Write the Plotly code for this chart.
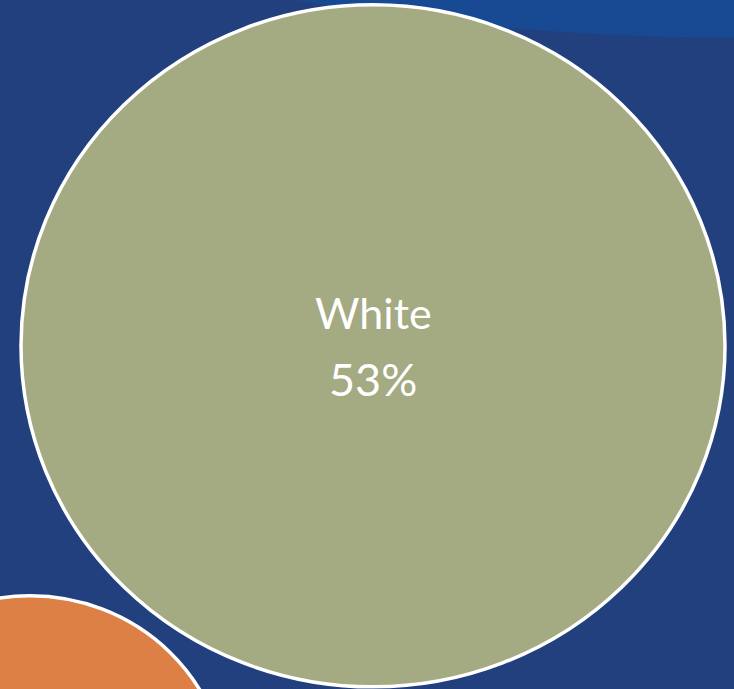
import plotly.graph_objects as go

# Bubble data (data units; x spans 0..734, y spans 0..711)
categories = ["Other", "White", "Black"]
percents = [None, 53, 16]
centers_x = [735, 373, 30]
centers_y = [-2461, 357, 812]
radii = [2500, 352, 197]
colors = ["#174A93", "#A4AA82", "#DD8046"]
outlines = [0, 3.5, 3.5]

BG = "#22407E"

fig = go.Figure()
# invisible trace to establish axes
fig.add_trace(go.Scatter(x=centers_x, y=centers_y, mode="markers",
                         marker=dict(opacity=0), hoverinfo="skip", showlegend=False))

shapes = []
annotations = []
for cat, p, cx, cy, r, col, lw in zip(categories, percents, centers_x, centers_y, radii, colors, outlines):
    shapes.append(dict(type="circle", xref="x", yref="y",
                       x0=cx - r, x1=cx + r, y0=cy - r, y1=cy + r,
                       fillcolor=col, layer="below",
                       line=dict(color="white", width=lw) if lw else dict(width=0)))
    if p is not None and 0 <= cx <= 734 and 0 <= cy <= 711:
        annotations.append(dict(x=cx, y=cy, xref="x", yref="y", text=cat, showarrow=False,
                                yshift=33, font=dict(family="Lato", size=43, color="white")))
        annotations.append(dict(x=cx, y=cy, xref="x", yref="y", text=f"{p}%", showarrow=False,
                                yshift=-33, font=dict(family="Lato", size=45, color="white")))

fig.update_layout(
    width=734, height=689,
    margin=dict(l=0, r=0, t=0, b=0),
    paper_bgcolor=BG, plot_bgcolor=BG,
    shapes=shapes, annotations=annotations,
    xaxis=dict(range=[0, 734], visible=False, fixedrange=True),
    yaxis=dict(range=[711.2, 0], visible=False, fixedrange=True),
    showlegend=False,
)
fig.write_html("out.html")
